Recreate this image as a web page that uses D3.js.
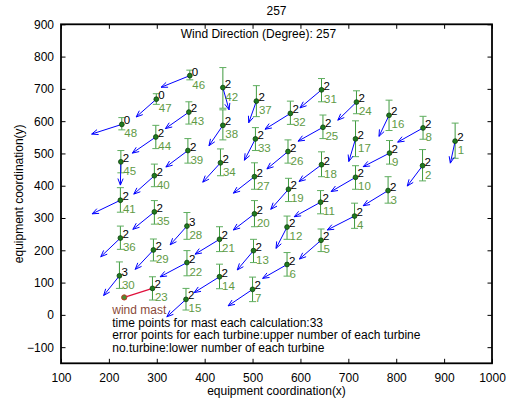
<!DOCTYPE html>
<html>
<head>
<meta charset="utf-8">
<script src="https://cdn.jsdelivr.net/npm/d3@7"></script>
<style>
  html, body { margin: 0; padding: 0; background: #fff; }
  svg { display: block; font-family: "Liberation Sans", Arial, sans-serif; }
</style>
</head>
<body>
<svg id="chart" width="512" height="403"></svg>
<script>
// ---- data ----
const turbineIds = [1,2,3,4,5,6,7,8,9,10,11,12,13,14,15,16,17,18,19,20,21,22,23,24,25,26,27,28,29,30,31,32,33,34,35,36,37,38,39,40,41,42,43,44,45,46,47,48];
const turbineX   = [923,855,783,713,643,572,500,856,786,715,642,572,502,431,361,785,715,644,575,504,431,363,291,717,647,574,504,363,293,222,644,579,506,433,295,224,508,438,365,295,224,438,367,298,225,369,299,227];
const turbineY   = [538,462,385,306,231,156,79,579,501,426,349,272,199,118,48,618,545,465,389,313,234,162,82,659,581,506,428,275,201,121,697,624,545,471,319,238,662,587,509,431,355,704,628,551,474,741,668,590];
const arrowEndX  = [913,823,731,656,598,521,449,803,731,664,587,549,468,378,321,764,701,597,538,460,380,307,291,678,595,530,460,328,255,189,599,526,483,396,250,183,492,409,319,252,165,451,318,249,224,309,257,164];
const arrowEndY  = [470,399,338,263,173,113,28,535,459,382,304,206,139,69,-6,553,475,413,327,263,188,118,82,603,538,452,377,217,141,60,641,575,479,411,265,180,595,524,458,374,313,635,577,501,402,705,613,560];
const errTop     = [594,512,428,346,266,193,117,615,540,462,385,306,234,157,82,665,601,505,423,354,273,199,118,694,619,542,471,317,235,164,732,662,580,514,354,275,710,635,546,467,394,766,660,587,509,758,685,611];
const errBottom  = [485,415,346,268,196,120,41,544,467,389,313,234,162,81,15,571,490,428,351,273,196,121,46,623,546,470,389,234,167,82,660,590,509,431,281,203,614,542,470,397,318,640,591,515,440,728,652,573];
const errorPoints= [2,2,2,2,2,2,2,2,2,2,2,2,2,2,2,2,2,2,2,2,2,2,2,2,2,2,2,3,2,3,2,2,2,2,2,2,2,2,2,2,2,2,2,2,2,0,0,0];
const mastPos    = [232, 54];
const mastTarget = 23;
const xTicks = [100,200,300,400,500,600,700,800,900,1000];
const yTicks = [-100,0,100,200,300,400,500,600,700,800,900];
const windDirection = 257;
const timePoints = 33;
const notes = [
  "time points for mast each calculation:" + timePoints,
  "error points for each turbine:upper number of each turbine",
  "no.turbine:lower number of each turbine"
];

// ---- layout ----
const svg = d3.select("#chart");
const L = 61, R = 492, T = 24.3, B = 363.3;
const x = d3.scaleLinear().domain([100, 1000]).range([L, R]);
const y = d3.scaleLinear().domain([-150, 900]).range([B, T]);

const turbines = turbineIds.map((id, i) => ({
  id, x: turbineX[i], y: turbineY[i], ax: arrowEndX[i], ay: arrowEndY[i],
  et: errTop[i], eb: errBottom[i], pts: errorPoints[i]
}));

// axes (MATLAB box with inward ticks)
const tickLen = 4.5;
const gx = svg.append("g").attr("transform", `translate(0,${B})`)
  .call(d3.axisBottom(x).tickValues(xTicks).tickSizeInner(-tickLen).tickSizeOuter(0).tickPadding(10).tickFormat(d3.format("d")));
const gxt = svg.append("g").attr("transform", `translate(0,${T})`)
  .call(d3.axisTop(x).tickValues(xTicks).tickSizeInner(-tickLen).tickSizeOuter(0).tickFormat(""));
const gy = svg.append("g").attr("transform", `translate(${L},0)`)
  .call(d3.axisLeft(y).tickValues(yTicks).tickSizeInner(-tickLen).tickSizeOuter(0).tickPadding(7).tickFormat(d3.format("d")));
const gyr = svg.append("g").attr("transform", `translate(${R},0)`)
  .call(d3.axisRight(y).tickValues(yTicks).tickSizeInner(-tickLen).tickSizeOuter(0).tickFormat(""));
[gx, gxt, gy, gyr].forEach(g => {
  g.select(".domain").remove();
  g.selectAll(".tick line").attr("stroke", "#000").attr("stroke-width", 1);
  g.selectAll(".tick text").attr("fill", "#000").style("font-size", "12px")
   .style("font-family", '"Liberation Sans", Arial, sans-serif');
});
svg.append("rect").attr("x", L).attr("y", T).attr("width", R - L).attr("height", B - T)
  .attr("fill", "none").attr("stroke", "#000").attr("stroke-width", 1.8);

// titles
svg.append("text").attr("x", (L + R) / 2).attr("y", 15).attr("text-anchor", "middle")
  .style("font-size", "12px").text(String(windDirection));
svg.append("text").attr("x", (L + R) / 2).attr("y", 395).attr("text-anchor", "middle")
  .style("font-size", "12px").text("equipment coordination(x)");
svg.append("text").attr("transform", `translate(23,${(T + B) / 2}) rotate(-90)`).attr("text-anchor", "middle")
  .style("font-size", "12px").text("equipment coordination(y)");
svg.append("text").attr("x", x(350)).attr("y", y(857))
  .style("font-size", "12px").text("Wind Direction (Degree): " + windDirection);

// mast line
const mt = turbines.find(t => t.id === mastTarget);
svg.append("line").attr("x1", x(mastPos[0])).attr("y1", y(mastPos[1]))
  .attr("x2", x(mt.x)).attr("y2", y(mt.y)).attr("stroke", "#e0103c").attr("stroke-width", 1.2);

// error bars
const errColor = "#3f9a3f", capW = 3.5;
const eg = svg.append("g");
turbines.forEach(t => {
  const cx = x(t.x);
  eg.append("line").attr("x1", cx).attr("x2", cx).attr("y1", y(t.et)).attr("y2", y(t.eb))
    .attr("stroke", errColor).attr("stroke-width", 1);
  [t.et, t.eb].forEach(v => eg.append("line").attr("x1", cx - capW).attr("x2", cx + capW)
    .attr("y1", y(v)).attr("y2", y(v)).attr("stroke", "#5fae5f").attr("stroke-width", 1));
});

// arrows
const ag = svg.append("g").attr("stroke", "#0000ff").attr("stroke-width", 1).attr("fill", "none");
turbines.forEach(t => {
  const x1 = x(t.x), y1 = y(t.y), x2 = x(t.ax), y2 = y(t.ay);
  const len = Math.hypot(x2 - x1, y2 - y1);
  if (len < 1) return;
  ag.append("line").attr("x1", x1).attr("y1", y1).attr("x2", x2).attr("y2", y2);
  const ang = Math.atan2(y2 - y1, x2 - x1), hl = 7, ha = 0.38;
  [ang + Math.PI - ha, ang + Math.PI + ha].forEach(a =>
    ag.append("line").attr("x1", x2).attr("y1", y2)
      .attr("x2", x2 + hl * Math.cos(a)).attr("y2", y2 + hl * Math.sin(a)));
});

// markers
svg.append("g").selectAll("circle").data(turbines).join("circle")
  .attr("cx", d => x(d.x)).attr("cy", d => y(d.y)).attr("r", 2.4)
  .attr("fill", "#1f7a1f").attr("stroke", "#0b3d0b").attr("stroke-width", 0.8);
svg.append("circle").attr("cx", x(mastPos[0])).attr("cy", y(mastPos[1])).attr("r", 2.6)
  .attr("fill", "#4d8a2e").attr("stroke", "#c0392b").attr("stroke-width", 1);

// labels
svg.append("g").selectAll("text.up").data(turbines).join("text")
  .attr("x", d => x(d.x) + 2).attr("y", d => y(d.y))
  .style("font-size", "11.5px").attr("fill", "#000").text(d => d.pts);
svg.append("g").selectAll("text.lo").data(turbines).join("text")
  .attr("x", d => x(d.x) + 2.5).attr("y", d => y(d.y) + 13)
  .style("font-size", "11.5px").attr("fill", "#5f9a45").text(d => d.id);

svg.append("text").attr("x", x(207)).attr("y", 313.5).style("font-size", "12px")
  .attr("fill", "#8b4a3a").text("wind mast");
notes.forEach((s, i) => svg.append("text").attr("x", x(207)).attr("y", 326.5 + i * 12.6)
  .style("font-size", "12px").attr("fill", "#000").text(s));
</script>
</body>
</html>
